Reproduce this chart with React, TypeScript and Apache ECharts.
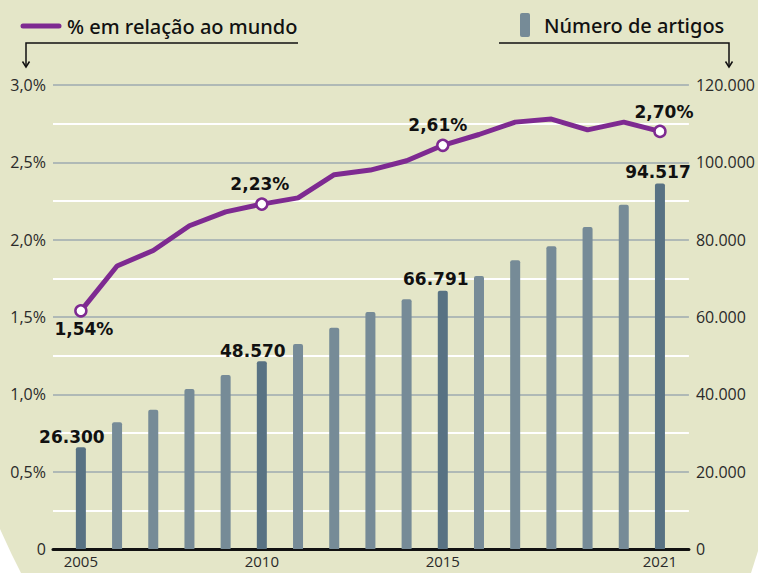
import React, { useEffect, useRef } from "react";
import * as echarts from "echarts";

const years = [2005, 2006, 2007, 2008, 2009, 2010, 2011, 2012, 2013, 2014, 2015, 2016, 2017, 2018, 2019, 2020, 2021];
const artigos = [26300, 32800, 36000, 41400, 45000, 48570, 53000, 57200, 61300, 64600, 66791, 70600, 74700, 78300, 83300, 89000, 94517];
const percentMundo = [1.54, 1.83, 1.93, 2.09, 2.18, 2.23, 2.27, 2.42, 2.45, 2.51, 2.61, 2.68, 2.76, 2.78, 2.71, 2.76, 2.70];
const highlightYears = [2005, 2010, 2015, 2021];
const xTickLabels = [2005, 2010, 2015, 2021];
const leftTicks = [0, 0.5, 1, 1.5, 2, 2.5, 3];
const rightTicks = [0, 20000, 40000, 60000, 80000, 100000, 120000];
const legendLine = "% em relação ao mundo";
const legendBar = "Número de artigos";

const PURPLE = "#7e2a91";
const BAR = "#768b97";
const BAR_HI = "#587283";
const BG = "#e4e6c8";
const FONT = "'Noto Sans', sans-serif";
const TICK_FONT = "'Open Sans', sans-serif";
const LABEL_FONT = "'DejaVu Sans', sans-serif";

const fmtThousands = (v: number) => String(Math.round(v)).replace(/\B(?=(\d{3})+(?!\d))/g, ".");
const fmtPct = (v: number) => v.toFixed(2).replace(".", ",") + "%";

const barLabelOffsets: Record<number, number[]> = { 2005: [-9, 4], 2010: [-9, 4], 2015: [-7, 3], 2021: [-2, 3] };
const lineLabelCfg: Record<number, any> = {
  2005: { position: "bottom", offset: [3, -4] },
  2010: { position: "top", offset: [-2, 2] },
  2015: { position: "top", offset: [-5, 2] },
  2021: { position: "top", offset: [4, 3] },
};

export default function App() {
  const ref = useRef<HTMLDivElement>(null);
  useEffect(() => {
    if (!ref.current) return;
    const chart = echarts.init(ref.current, undefined, { renderer: "svg" });
    const barData = years.map((y, i) => {
      const hi = highlightYears.includes(y);
      return {
        value: [y, artigos[i]],
        itemStyle: { color: hi ? BAR_HI : BAR },
        label: hi
          ? { show: true, position: "top", offset: barLabelOffsets[y], distance: 6 }
          : { show: false },
      };
    });
    const lineData = years.map((y, i) => {
      const hi = highlightYears.includes(y);
      return hi
        ? {
            value: [y, percentMundo[i]],
            symbol: "circle",
            symbolSize: 11,
            label: { show: true, distance: 7, ...lineLabelCfg[y] },
          }
        : { value: [y, percentMundo[i]], symbol: "none" };
    });

    const tickLabel = { color: "#2a2a2a", fontSize: 16, fontFamily: TICK_FONT };

    const option: any = {
      animation: false,
      backgroundColor: BG,
      textStyle: { fontFamily: FONT },
      grid: { left: 53, right: 68, top: 85, bottom: 24, containLabel: false },
      xAxis: {
        type: "value",
        min: 2004.23,
        max: 2021.8,
        axisLine: { show: true, onZero: false, lineStyle: { color: "#111", width: 3 } },
        axisTick: { show: false },
        splitLine: { show: false },
        axisLabel: {
          customValues: xTickLabels,
          formatter: (v: number) => String(v),
          ...tickLabel,
          fontSize: 15,
          lineHeight: 16,
          margin: 4,
        },
      },
      yAxis: [
        {
          type: "value",
          min: 0,
          max: 3,
          interval: 0.5,
          axisLine: { show: false },
          axisTick: { show: false },
          axisLabel: {
            customValues: leftTicks,
            formatter: (v: number) => (v === 0 ? "0" : v.toFixed(1).replace(".", ",") + "%"),
            ...tickLabel,
            margin: 7,
          },
          splitLine: { show: true, lineStyle: { color: "#9eaab0", width: 1.5 } },
          minorTick: { show: false, splitNumber: 2 },
          minorSplitLine: { show: true, lineStyle: { color: "#ffffff", width: 2 } },
        },
        {
          type: "value",
          min: 0,
          max: 120000,
          interval: 20000,
          axisLine: { show: false },
          axisTick: { show: false },
          splitLine: { show: false },
          axisLabel: {
            customValues: rightTicks,
            formatter: (v: number) => fmtThousands(v),
            ...tickLabel,
            margin: 7,
          },
        },
      ],
      series: [
        {
          type: "bar",
          yAxisIndex: 1,
          barWidth: 10,
          data: barData,
          itemStyle: { borderRadius: [2, 2, 0, 0] },
          label: {
            formatter: (p: any) => fmtThousands(p.value[1]),
            color: "#111",
            fontSize: 17,
            fontWeight: "bold",
            fontFamily: LABEL_FONT,
          },
          z: 2,
        },
        {
          type: "line",
          yAxisIndex: 0,
          data: lineData,
          symbol: "circle",
          symbolSize: 11,
          showAllSymbol: true,
          lineStyle: { color: PURPLE, width: 5 },
          itemStyle: { color: "#ffffff", borderColor: PURPLE, borderWidth: 2.5 },
          label: {
            formatter: (p: any) => fmtPct(p.value[1]),
            color: "#111",
            fontSize: 17,
            fontWeight: "bold",
            fontFamily: LABEL_FONT,
          },
          z: 5,
        },
      ],
      graphic: [
        { type: "polygon", shape: { points: [[0, 529], [6, 542], [12, 555], [21, 573], [0, 573]] }, style: { fill: "#ffffff" }, silent: true },
        { type: "polygon", shape: { points: [[758, 551], [758, 573], [751, 573]] }, style: { fill: "#ffffff" }, silent: true },
        { type: "line", shape: { x1: 23, y1: 26, x2: 59, y2: 26 }, style: { stroke: PURPLE, lineWidth: 5, lineCap: "round" } },
        { type: "text", x: 67, y: 26, style: { text: legendLine, fill: "#111", fontSize: 20, fontWeight: 500, fontFamily: FONT, verticalAlign: "middle" } },
        { type: "polyline", shape: { points: [[298, 43], [26, 43], [26, 67]] }, style: { stroke: "#111", lineWidth: 1.5, fill: "none" } },
        { type: "polyline", shape: { points: [[22.5, 61.5], [26, 67], [29.5, 61.5]] }, style: { stroke: "#111", lineWidth: 1.5, fill: "none" } },
        { type: "rect", shape: { x: 520, y: 13, width: 10, height: 24, r: 2 }, style: { fill: BAR } },
        { type: "text", x: 544, y: 25, style: { text: legendBar, fill: "#111", fontSize: 20, fontWeight: 500, fontFamily: FONT, verticalAlign: "middle" } },
        { type: "polyline", shape: { points: [[499, 43], [729, 43], [729, 67]] }, style: { stroke: "#111", lineWidth: 1.5, fill: "none" } },
        { type: "polyline", shape: { points: [[725.5, 61.5], [729, 67], [732.5, 61.5]] }, style: { stroke: "#111", lineWidth: 1.5, fill: "none" } },
      ],
    };
    chart.setOption(option);
    return () => chart.dispose();
  }, []);
  return (
    <div
      ref={ref}
      style={{ position: "fixed", left: 0, top: 0, width: 758, height: 573 }}
    />
  );
}
